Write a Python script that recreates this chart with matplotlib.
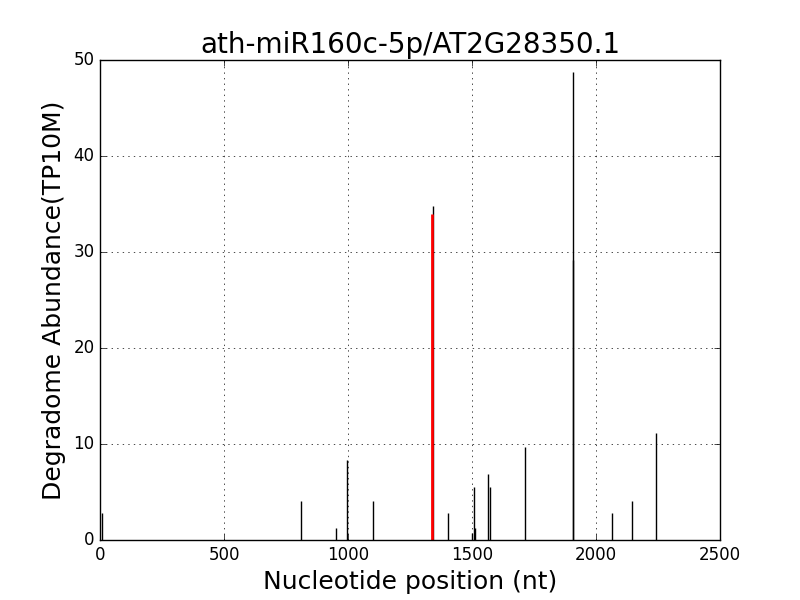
import matplotlib
matplotlib.use('Agg')
import matplotlib.pyplot as plt

plt.style.use('classic')

# degradome peaks: position (nt) and abundance (TP10M)
positions = [9, 810, 953, 997, 1102, 1341, 1402, 1500, 1508, 1512, 1566, 1571, 1715, 1906, 1908, 2066, 2146, 2243]
abundance = [2.8, 4.1, 1.3, 8.3, 4.1, 34.8, 2.8, 0.7, 5.5, 1.3, 6.9, 5.5, 9.7, 48.7, 29.2, 2.8, 4.1, 11.1]

# miRNA target site
site_pos = [1340]
site_abund = [34.0]

fig, ax = plt.subplots(figsize=(8, 6), dpi=100)
fig.patch.set_facecolor('white')

ax.vlines(positions, 0, abundance, colors='black', linewidth=1)
ax.vlines(site_pos, 0, site_abund, colors='red', linewidth=2)

ax.set_xlim(0, 2500)
ax.set_ylim(0, 50)
ax.grid(True)
ax.set_title('ath-miR160c-5p/AT2G28350.1', fontsize=20)
ax.set_xlabel('Nucleotide position (nt)', fontsize=18)
ax.set_ylabel('Degradome Abundance(TP10M)', fontsize=18)

fig.savefig('out.png', dpi=100, facecolor='white')
